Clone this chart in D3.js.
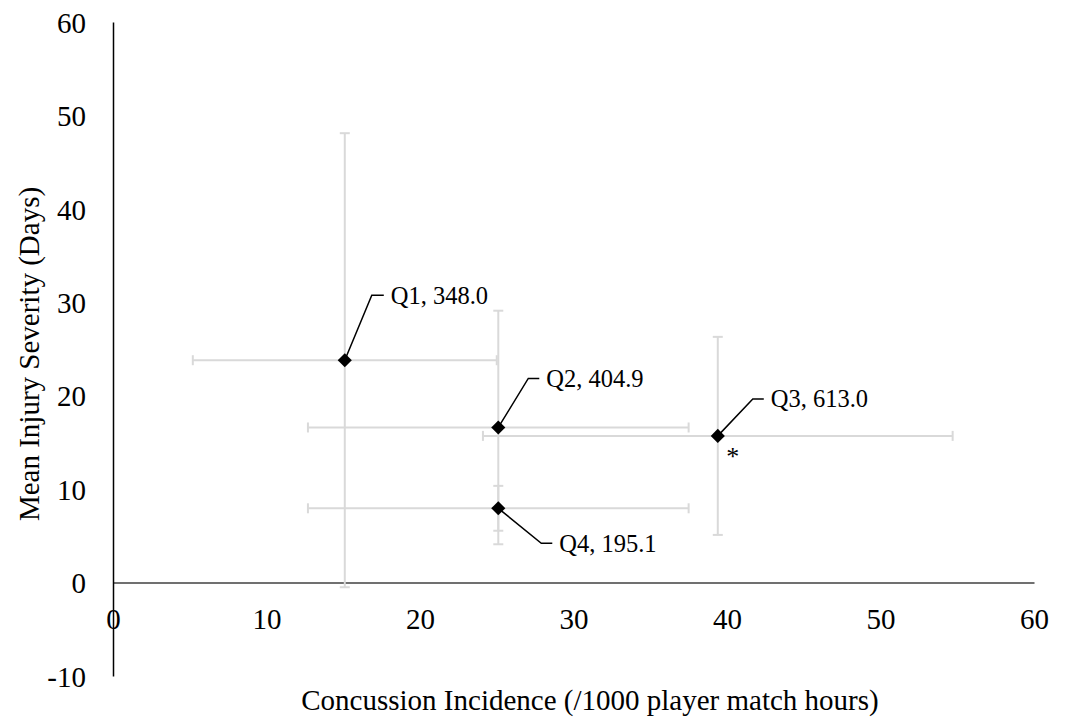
<!DOCTYPE html>
<html>
<head>
<meta charset="utf-8">
<script src="https://cdn.jsdelivr.net/npm/d3@7"></script>
<style>
  body { margin: 0; background: #fff; }
  text { font-family: "Liberation Serif", "Times New Roman", serif; fill: #000; }
</style>
</head>
<body>
<div id="chart"></div>
<script>
// quarter groups, concussion incidence (x) and mean severity (y) with error
const quarters = ["Q1", "Q2", "Q3", "Q4"];
const labelValues = ["348.0", "404.9", "613.0", "195.1"];
const incidence = [15.1, 25.1, 39.4, 25.1];
const incidenceErr = [9.9, 12.4, 15.3, 12.4];
const severity = [23.8, 16.6, 15.7, 7.95];
const severityErr = [24.3, 12.5, 10.6, 2.4];
const xTicks = [0, 10, 20, 30, 40, 50, 60];
const yTicks = [-10, 0, 10, 20, 30, 40, 50, 60];
const significant = ["Q3"];

// leader line layout for each label: elbow dx, dy, and line end dx
const leaders = [
  {ex: 27, ey: -65, end: 39},
  {ex: 30, ey: -49, end: 41},
  {ex: 35, ey: -37, end: 46},
  {ex: 43, ey: 35, end: 54}
];

const points = quarters.map((q, i) => ({
  q: q,
  label: q + ", " + labelValues[i],
  x: incidence[i],
  xe: incidenceErr[i],
  y: severity[i],
  ye: severityErr[i],
  lead: leaders[i]
}));

const width = 1089, height = 717;
const svg = d3.select("#chart").append("svg")
  .attr("width", width)
  .attr("height", height);

const x = d3.scaleLinear().domain([0, 60]).range([113, 1034]);
const y = d3.scaleLinear().domain([-10, 60]).range([676, 22]);

const errColor = "#d9d9d9";
const cap = 5;
const axisFont = "29px";

// x axis sits on y = 0
const xAxis = svg.append("g")
  .attr("transform", "translate(0," + y(0) + ")")
  .call(d3.axisBottom(x).tickValues(xTicks).tickFormat(d => String(d)).tickSize(0).tickSizeOuter(0));
xAxis.select(".domain").attr("stroke", "#404040").attr("stroke-width", 1.5);
xAxis.selectAll("text")
  .attr("y", 36).attr("dy", "0.35em")
  .style("font-size", axisFont)
  .style("font-family", "'Liberation Serif', serif");

const yAxis = svg.append("g")
  .attr("transform", "translate(" + x(0) + ",0)")
  .call(d3.axisLeft(y).tickValues(yTicks).tickFormat(d => String(d)).tickSize(0).tickSizeOuter(0));
yAxis.select(".domain").attr("stroke", "#000").attr("stroke-width", 1.5);
yAxis.selectAll("text")
  .attr("x", -27).attr("dy", "0.35em")
  .style("font-size", axisFont)
  .style("font-family", "'Liberation Serif', serif");

// error bars
const err = svg.append("g").attr("stroke", errColor).attr("stroke-width", 2);
points.forEach(d => {
  err.append("line")
    .attr("x1", x(d.x - d.xe)).attr("x2", x(d.x + d.xe))
    .attr("y1", y(d.y)).attr("y2", y(d.y));
  [d.x - d.xe, d.x + d.xe].forEach(v => {
    err.append("line")
      .attr("x1", x(v)).attr("x2", x(v))
      .attr("y1", y(d.y) - cap).attr("y2", y(d.y) + cap);
  });
  err.append("line")
    .attr("x1", x(d.x)).attr("x2", x(d.x))
    .attr("y1", y(d.y - d.ye)).attr("y2", y(d.y + d.ye));
  [d.y - d.ye, d.y + d.ye].forEach(v => {
    err.append("line")
      .attr("x1", x(d.x) - cap).attr("x2", x(d.x) + cap)
      .attr("y1", y(v)).attr("y2", y(v));
  });
});

// leader lines and labels
const lab = svg.append("g");
points.forEach(d => {
  const px = x(d.x), py = y(d.y);
  lab.append("path")
    .attr("d", "M" + px + "," + py + "L" + (px + d.lead.ex) + "," + (py + d.lead.ey) + "H" + (px + d.lead.end))
    .attr("fill", "none")
    .attr("stroke", "#000")
    .attr("stroke-width", 1.5);
  lab.append("text")
    .attr("x", px + d.lead.end + 7)
    .attr("y", py + d.lead.ey)
    .attr("dy", "0.35em")
    .style("font-size", "24.5px")
    .text(d.label);
});

// diamond markers
svg.append("g").selectAll("path.pt")
  .data(points)
  .enter().append("path")
  .attr("class", "pt")
  .attr("d", d3.symbol().type(d3.symbolSquare).size(100))
  .attr("transform", d => "translate(" + x(d.x) + "," + y(d.y) + ") rotate(45)")
  .attr("fill", "#000");

// significance marker
points.filter(d => significant.includes(d.q)).forEach(d => {
  svg.append("text")
    .attr("x", x(d.x) + 15)
    .attr("y", y(d.y) + 11)
    .attr("dy", "0.7em")
    .attr("text-anchor", "middle")
    .style("font-size", "26px")
    .text("*");
});

// axis titles
svg.append("text")
  .attr("x", 590).attr("y", 700)
  .attr("dy", "0.35em")
  .attr("text-anchor", "middle")
  .style("font-size", axisFont)
  .text("Concussion Incidence (/1000 player match hours)");

svg.append("text")
  .attr("transform", "translate(29,354) rotate(-90)")
  .attr("dy", "0.35em")
  .attr("text-anchor", "middle")
  .style("font-size", axisFont)
  .text("Mean Injury Severity (Days)");
</script>
</body>
</html>
